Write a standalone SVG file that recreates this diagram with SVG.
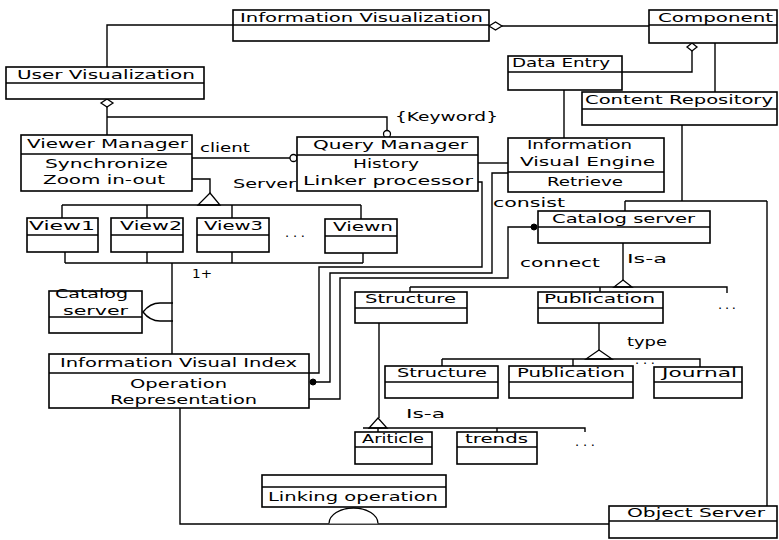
<svg xmlns="http://www.w3.org/2000/svg" width="779" height="540" viewBox="0 0 779 540">
<style>
.box{fill:#fff;stroke:#000;stroke-width:1.6}
.sep{stroke:#000;stroke-width:1.4}
.ln{fill:none;stroke:#000;stroke-width:1.4}
.hd{fill:#fff;stroke:#000;stroke-width:1.3}
.dot{fill:#000;stroke:#000}
text{font-family:"DejaVu Sans","Liberation Sans",sans-serif;font-size:13px;fill:#000}
</style>
<rect width="779" height="540" fill="#fff"/>
<g id="connectors">
<path class="ln" d="M233,25 H107 V67"/>
<path class="ln" d="M502,26 H649"/>
<path class="hd" d="M489,26 L495.5,22 L502,26 L495.5,30 Z"/>
<path class="ln" d="M692,51 V72 H622"/>
<path class="hd" d="M692,43 L697,47 L692,51 L687,47 Z"/>
<path class="ln" d="M715,43 V92"/>
<path class="ln" d="M564,90 V138"/>
<path class="ln" d="M107,107 V135"/>
<path class="hd" d="M107,99 L113,103 L107,107 L101,103 Z"/>
<path class="ln" d="M107,117 H387 V130.5"/>
<circle class="hd" cx="387" cy="134" r="3.5"/>
<path class="ln" d="M192,158 H290"/>
<circle class="hd" cx="293.5" cy="158" r="3.5"/>
<path class="ln" d="M192,179 H210 V193"/>
<path class="hd" d="M210,193 L220,205 L198,205 Z"/>
<path class="ln" d="M62,205 H361 M62,205 V218 M147,205 V218 M232,205 V218 M361,205 V219"/>
<path class="ln" d="M65,252 V263 M147,252 V263 M232,252 V263 M363,253 V263 M65,263 H363 M172,263 V354"/>
<path class="ln" d="M173,303 H160 Q150,303 143,312 Q150,321 160,321 H173"/>
<path class="ln" d="M478,163 H508"/>
<path class="ln" d="M478,182 H482 V267 H319 V373 H309"/>
<path class="ln" d="M508,173 H492 V273 H330 V382 H313"/>
<circle class="dot" cx="313" cy="382" r="3"/>
<path class="ln" d="M534,227 H508 V278 H340 V399 H309"/>
<circle class="dot" cx="534" cy="227" r="3"/>
<path class="ln" d="M682,125 V201 M625,201 H767 M625,201 V211 M767,201 V506"/>
<path class="ln" d="M623,243 V280"/>
<path class="hd" d="M623,280 L632,287 L614,287 Z"/>
<path class="ln" d="M410,287 H727 V293 M410,287 V292 M600,287 V292"/>
<path class="ln" d="M599,323 V350"/>
<path class="hd" d="M599,350 L612,359 L586,359 Z"/>
<path class="ln" d="M442,359 H700 V367 M442,359 V366 M573,359 V366"/>
<path class="ln" d="M379,323 V418"/>
<path class="hd" d="M378,418 L387,428 L369,428 Z"/>
<path class="ln" d="M363,428 H585 V432 M378,428 V432 M497,428 V432"/>
<path class="ln" d="M180,408 V524 H609"/>
<path class="hd" d="M329,523.5 A24.5,15.5 0 0 1 378,523.5"/>
</g>
<g id="labels">
<text x="200" y="152" textLength="50" lengthAdjust="spacingAndGlyphs">client</text>
<text x="233" y="188" textLength="63" lengthAdjust="spacingAndGlyphs">Server</text>
<text x="395" y="121" textLength="103" lengthAdjust="spacingAndGlyphs">{Keyword}</text>
<text x="493" y="207" textLength="72" lengthAdjust="spacingAndGlyphs">consist</text>
<text x="520" y="267" textLength="80" lengthAdjust="spacingAndGlyphs">connect</text>
<text x="627" y="263" textLength="40" lengthAdjust="spacingAndGlyphs">Is-a</text>
<text x="192" y="278" textLength="20" lengthAdjust="spacingAndGlyphs">1+</text>
<text x="627" y="346" textLength="40" lengthAdjust="spacingAndGlyphs">type</text>
<text x="406" y="418" textLength="39" lengthAdjust="spacingAndGlyphs">Is-a</text>
<text x="285" y="237" textLength="20" lengthAdjust="spacing">...</text>
<text x="718" y="309" textLength="18" lengthAdjust="spacing">...</text>
<text x="635" y="364" textLength="20" lengthAdjust="spacing">...</text>
<text x="575" y="446" textLength="20" lengthAdjust="spacing">...</text>
</g>
<g id="infoVis"><rect class="box" x="233" y="10" width="256" height="31"/><line class="sep" x1="233" y1="25" x2="489" y2="25"/><text x="240" y="22" textLength="243" lengthAdjust="spacingAndGlyphs">Information Visualization</text></g>
<g id="component"><rect class="box" x="649" y="10" width="128" height="33"/><line class="sep" x1="649" y1="25" x2="777" y2="25"/><text x="658" y="22" textLength="115" lengthAdjust="spacingAndGlyphs">Component</text></g>
<g id="userVis"><rect class="box" x="6" y="67" width="198" height="32"/><line class="sep" x1="6" y1="83" x2="204" y2="83"/><text x="17" y="79" textLength="178" lengthAdjust="spacingAndGlyphs">User Visualization</text></g>
<g id="dataEntry"><rect class="box" x="508" y="56" width="114" height="34"/><line class="sep" x1="508" y1="72" x2="622" y2="72"/><text x="512" y="67" textLength="98" lengthAdjust="spacingAndGlyphs">Data Entry</text></g>
<g id="contentRepo"><rect class="box" x="582" y="92" width="195" height="33"/><line class="sep" x1="582" y1="109" x2="777" y2="109"/><text x="585" y="104" textLength="188" lengthAdjust="spacingAndGlyphs">Content Repository</text></g>
<g id="viewerMgr"><rect class="box" x="21" y="135" width="171" height="56"/><line class="sep" x1="21" y1="154" x2="192" y2="154"/><text x="27" y="148" textLength="161" lengthAdjust="spacingAndGlyphs">Viewer Manager</text><text x="45" y="168" textLength="123" lengthAdjust="spacingAndGlyphs">Synchronize</text><text x="43" y="184" textLength="122" lengthAdjust="spacingAndGlyphs">Zoom in-out</text></g>
<g id="queryMgr"><rect class="box" x="297" y="137" width="181" height="54"/><line class="sep" x1="297" y1="155" x2="478" y2="155"/><text x="313" y="149" textLength="155" lengthAdjust="spacingAndGlyphs">Query Manager</text><text x="353" y="168" textLength="66" lengthAdjust="spacingAndGlyphs">History</text><text x="303" y="185" textLength="170" lengthAdjust="spacingAndGlyphs">Linker processor</text></g>
<g id="infoVisEngine"><rect class="box" x="508" y="138" width="156" height="54"/><line class="sep" x1="508" y1="172" x2="664" y2="172"/><text x="527" y="149" textLength="105" lengthAdjust="spacingAndGlyphs">Information</text><text x="520" y="166" textLength="135" lengthAdjust="spacingAndGlyphs">Visual Engine</text><text x="547" y="186" textLength="76" lengthAdjust="spacingAndGlyphs">Retrieve</text></g>
<g id="view1"><rect class="box" x="27" y="218" width="71" height="34"/><line class="sep" x1="27" y1="235" x2="98" y2="235"/><text x="29" y="230" textLength="66" lengthAdjust="spacingAndGlyphs">View1</text></g>
<g id="view2"><rect class="box" x="111" y="218" width="72" height="34"/><line class="sep" x1="111" y1="235" x2="183" y2="235"/><text x="120" y="230" textLength="62" lengthAdjust="spacingAndGlyphs">View2</text></g>
<g id="view3"><rect class="box" x="197" y="218" width="72" height="34"/><line class="sep" x1="197" y1="235" x2="269" y2="235"/><text x="204" y="230" textLength="59" lengthAdjust="spacingAndGlyphs">View3</text></g>
<g id="viewn"><rect class="box" x="325" y="219" width="72" height="34"/><line class="sep" x1="325" y1="236" x2="397" y2="236"/><text x="333" y="231" textLength="60" lengthAdjust="spacingAndGlyphs">Viewn</text></g>
<g id="catalogLeft"><rect class="box" x="49" y="291" width="93" height="42"/><line class="sep" x1="49" y1="317" x2="142" y2="317"/><text x="55" y="298" textLength="73" lengthAdjust="spacingAndGlyphs">Catalog</text><text x="63" y="315" textLength="65" lengthAdjust="spacingAndGlyphs">server</text></g>
<g id="infoVisIndex"><rect class="box" x="49" y="354" width="260" height="54"/><line class="sep" x1="49" y1="373" x2="309" y2="373"/><text x="60" y="367" textLength="237" lengthAdjust="spacingAndGlyphs">Information Visual Index</text><text x="130" y="388" textLength="97" lengthAdjust="spacingAndGlyphs">Operation</text><text x="110" y="404" textLength="147" lengthAdjust="spacingAndGlyphs">Representation</text></g>
<g id="catalogServer"><rect class="box" x="538" y="211" width="172" height="32"/><line class="sep" x1="538" y1="227" x2="710" y2="227"/><text x="552" y="223" textLength="143" lengthAdjust="spacingAndGlyphs">Catalog server</text></g>
<g id="structure1"><rect class="box" x="355" y="292" width="112" height="31"/><line class="sep" x1="355" y1="308" x2="467" y2="308"/><text x="365" y="303" textLength="91" lengthAdjust="spacingAndGlyphs">Structure</text></g>
<g id="publication1"><rect class="box" x="538" y="292" width="125" height="31"/><line class="sep" x1="538" y1="308" x2="663" y2="308"/><text x="544" y="303" textLength="111" lengthAdjust="spacingAndGlyphs">Publication</text></g>
<g id="structure2"><rect class="box" x="385" y="366" width="113" height="32"/><line class="sep" x1="385" y1="382" x2="498" y2="382"/><text x="397" y="377" textLength="90" lengthAdjust="spacingAndGlyphs">Structure</text></g>
<g id="publication2"><rect class="box" x="509" y="366" width="124" height="32"/><line class="sep" x1="509" y1="382" x2="633" y2="382"/><text x="517" y="377" textLength="108" lengthAdjust="spacingAndGlyphs">Publication</text></g>
<g id="journal"><rect class="box" x="654" y="367" width="88" height="31"/><line class="sep" x1="654" y1="382" x2="742" y2="382"/><text x="662" y="377" textLength="75" lengthAdjust="spacingAndGlyphs">Journal</text></g>
<g id="article"><rect class="box" x="355" y="432" width="77" height="32"/><line class="sep" x1="355" y1="447" x2="432" y2="447"/><text x="362" y="443" textLength="62" lengthAdjust="spacingAndGlyphs">Ariticle</text></g>
<g id="trends"><rect class="box" x="457" y="432" width="80" height="32"/><line class="sep" x1="457" y1="447" x2="537" y2="447"/><text x="465" y="443" textLength="63" lengthAdjust="spacingAndGlyphs">trends</text></g>
<g id="linkingOp"><rect class="box" x="262" y="475" width="184" height="32"/><line class="sep" x1="262" y1="487" x2="446" y2="487"/><text x="268" y="501" textLength="170" lengthAdjust="spacingAndGlyphs">Linking operation</text></g>
<g id="objectServer"><rect class="box" x="609" y="506" width="168" height="32"/><line class="sep" x1="609" y1="521" x2="777" y2="521"/><text x="627" y="517" textLength="138" lengthAdjust="spacingAndGlyphs">Object Server</text></g>
</svg>
